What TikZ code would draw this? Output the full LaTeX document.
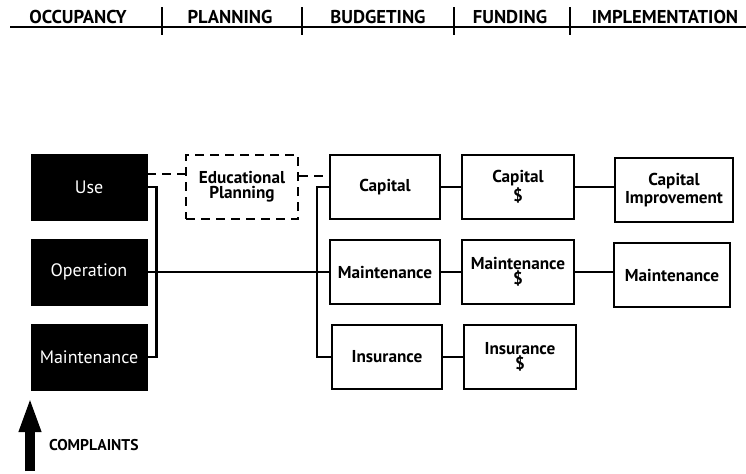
\documentclass[tikz,border=0pt]{standalone}
\usepackage{fontspec}
\setmainfont{PT Sans}
\usetikzlibrary{arrows.meta}
\begin{document}
\begin{tikzpicture}[x=0.5pt,y=-0.5pt,
  occbox/.style={draw=black, fill=black, text=white, minimum width=58pt, minimum height=33pt, inner sep=0pt, align=center, font=\fontsize{9}{8}\selectfont},
  stagebox/.style={draw, line width=1.2pt, minimum width=56pt, minimum height=32pt, inner sep=0pt, align=center, font=\bfseries\fontsize{8.6}{7.5}\selectfont},
  planbox/.style={stagebox, dash pattern=on 4.5pt off 3pt},
  stagehead/.style={font=\bfseries\fontsize{9.3}{9}\selectfont},
  link/.style={line width=1.1pt}]
\useasboundingbox (0,0) rectangle (746,473);

\def\xocc{89};
\def\xplan{242};
\def\xbud{385};
\def\xfund{518};
\def\ximpl{674};

\def\yhead{17};
\def\yrule{27};
\def\ytop{187};
\def\ymid{272};
\def\ybot{357};

\node [stagehead] (hocc) at (78, \yhead) {OCCUPANCY};
\node [stagehead] (hplan) at (230, \yhead) {PLANNING};
\node [stagehead] (hbud) at (378, \yhead) {BUDGETING};
\node [stagehead] (hfund) at (510, \yhead) {FUNDING};
\node [stagehead] (himpl) at (665, \yhead) {IMPLEMENTATION};
\draw [line width=1.3pt] (10, \yrule) -- (746, \yrule);
\foreach \x in {162, 302, 454, 570}
  \draw [line width=1pt] (\x, 7) -- (\x, 35);

\node [occbox] (use) at (\xocc, \ytop) {Use};
\node [occbox] (oper) at (\xocc, \ymid) {Operation};
\node [occbox] (omaint) at (\xocc, \ybot) {Maintenance};

\node [planbox] (edu) at (\xplan, \ytop) {Educational\\Planning};

\node [stagebox, minimum width=55pt] (bcap) at (\xbud, \ytop) {Capital};
\node [stagebox, minimum width=55pt] (bmaint) at (\xbud, \ymid) {Maintenance};
\node [stagebox, minimum width=55pt] (binsur) at (\xbud+2, \ybot) {Insurance};

\node [stagebox] (fcap) at (\xfund, \ytop) {Capital\\\$};
\node [stagebox] (fmaint) at (\xfund, \ymid) {Maintenance\\\$};
\node [stagebox] (finsur) at (\xfund+2, \ybot) {Insurance\\\$};

\node [stagebox, minimum width=59pt] (icap) at (\ximpl, \ytop+3) {Capital\\Improvement};
\node [stagebox, minimum width=58pt] (imaint) at (\ximpl-2, \ymid+3) {Maintenance};

\draw [link, dash pattern=on 4.5pt off 3pt] ([yshift=6.5pt]use.east) -- ([yshift=6.5pt]use.east -| edu.west);
\draw [link, dash pattern=on 4.5pt off 3pt] ([yshift=5.5pt]edu.east) -- ([yshift=5.5pt]edu.east -| bcap.west);
\draw [link] (use.east) -- ++(4.5pt, 0) |- (omaint.east);
\draw [link] (oper.east) -- (bmaint.west);
\draw [link] (bcap.west) -- ++(-6pt, 0) |- (binsur.west);

\draw [link] (bcap) -- (fcap);
\draw [link] (fcap) -- (fcap -| icap.west);
\draw [link] (bmaint) -- (fmaint);
\draw [link] (fmaint) -- (fmaint -| imaint.west);
\draw [link] (binsur) -- (finsur);

\coordinate (cbase) at (30, 471);
\coordinate (ctip) at (30, 397);
\draw [line width=5pt, -{Triangle[length=17.5pt, width=10pt]}] (cbase) -- (ctip);
\node [anchor=west, font=\bfseries\fontsize{7.8}{8}\selectfont] (cmpl) at (42, 445) {COMPLAINTS};

\end{tikzpicture}
\end{document}
